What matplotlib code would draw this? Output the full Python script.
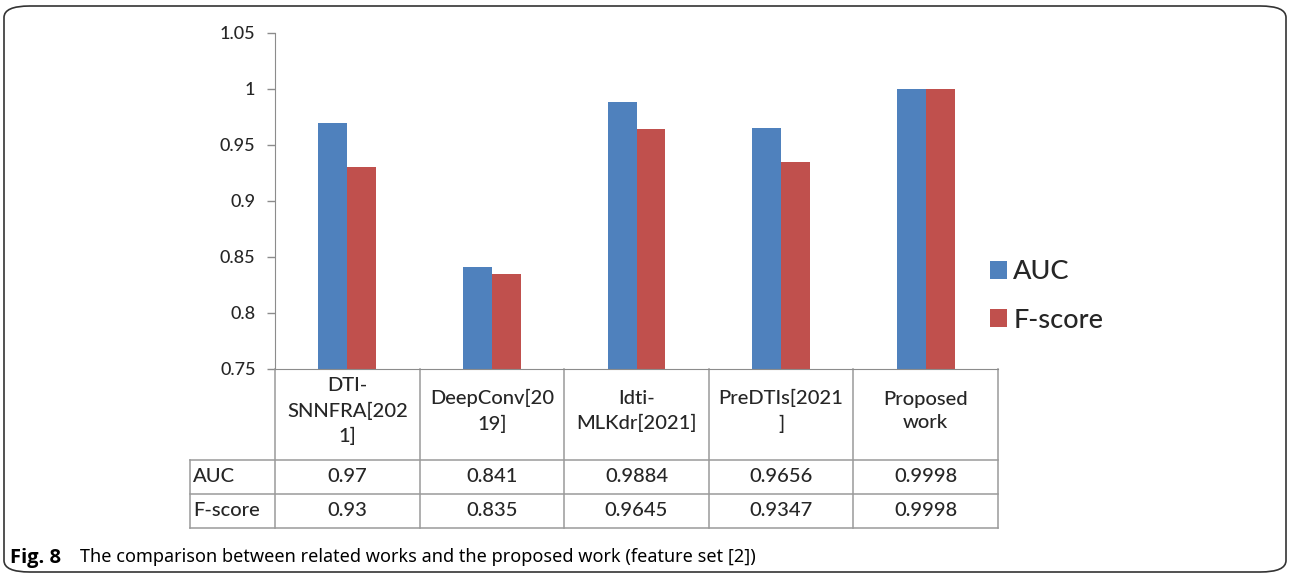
import matplotlib.pyplot as plt
import matplotlib.transforms as mtransforms
from matplotlib.patches import FancyBboxPatch
import numpy as np

# Data
methods = ['DTI-\nSNNFRA[202\n1]', 'DeepConv[20\n19]', 'Idti-\nMLKdr[2021]',
           'PreDTIs[2021\n]', 'Proposed\nwork']
auc = [0.97, 0.841, 0.9884, 0.9656, 0.9998]
fscore = [0.93, 0.835, 0.9645, 0.9347, 0.9998]
auc_labels = ['0.97', '0.841', '0.9884', '0.9656', '0.9998']
fscore_labels = ['0.93', '0.835', '0.9645', '0.9347', '0.9998']

blue = '#4F81BD'
red = '#C0504D'
grid_col = '#8C8C8C'
txt_col = '#262626'
font = 'Lato'

W, H = 1290, 574
fig = plt.figure(figsize=(W / 100, H / 100), dpi=100)

def fx(px):
    return px / W

def fy(py):
    return 1 - py / H

ax_left, ax_right, ax_top, ax_bot = 275, 998, 33, 369
ax = fig.add_axes([fx(ax_left), fy(ax_bot), fx(ax_right - ax_left), (ax_bot - ax_top) / H])

x = np.arange(len(methods))
bw = 0.2
ax.bar(x - bw / 2, auc, bw, color=blue, label='AUC')
ax.bar(x + bw / 2, fscore, bw, color=red, label='F-score')

ax.set_xlim(-0.5, len(methods) - 0.5)
ax.set_ylim(0.75, 1.05)
ax.set_yticks(np.arange(0.75, 1.051, 0.05))
ax.set_yticklabels(['0.75', '0.8', '0.85', '0.9', '0.95', '1', '1.05'],
                   fontsize=13, color=txt_col, family=font, fontweight='medium')
ax.set_xticks([])
ax.tick_params(axis='y', length=6, width=1, color=grid_col, pad=8)
for s in ['top', 'right']:
    ax.spines[s].set_visible(False)
ax.spines['left'].set_color(grid_col)
ax.spines['bottom'].set_color(grid_col)

# Data table under the axis: x in data units, y in figure fraction
trans = mtransforms.blended_transform_factory(ax.transData, fig.transFigure)
unit_px = (ax_right - ax_left) / len(methods)
head_left = -0.5 - (ax_left - 190) / unit_px
row_lines = [460, 494, 528]
line_kw = dict(color='#9A9A9A', lw=1.1, transform=trans, clip_on=False)

for b in np.arange(-0.5, len(methods), 1.0):
    ax.plot([b, b], [fy(ax_bot), fy(row_lines[-1])], **line_kw)
ax.plot([head_left, head_left], [fy(row_lines[0]), fy(row_lines[-1])], **line_kw)
for r in row_lines:
    ax.plot([head_left, len(methods) - 0.5], [fy(r), fy(r)], **line_kw)

cell_kw = dict(transform=trans, fontsize=14.5, color=txt_col,
               family=font, fontweight='medium', va='center')
for i, name in enumerate(methods):
    ax.text(i, fy(411), name, ha='center', linespacing=1.5, **cell_kw)
    ax.text(i, fy(477), auc_labels[i], ha='center', **cell_kw)
    ax.text(i, fy(510), fscore_labels[i], ha='center', **cell_kw)

ax.text(head_left + 0.02, fy(477), 'AUC', ha='left', **cell_kw)
ax.text(head_left + 0.02, fy(510), 'F-score', ha='left', **cell_kw)

# Legend
leg = fig.legend(loc='center left', bbox_to_anchor=(fx(966), fy(296)), frameon=False,
                 prop={'family': font, 'size': 19.5, 'weight': 'medium'},
                 handlelength=0.6, handleheight=0.6, handletextpad=0.25, labelspacing=0.85)
for t in leg.get_texts():
    t.set_color(txt_col)

# Caption and frame
fig.text(fx(10), fy(558), 'Fig. 8', fontsize=14.5, fontweight='bold',
         family='Open Sans', va='center', ha='left')
fig.text(fx(80), fy(557),
         'The comparison between related works and the proposed work (feature set [2])',
         fontsize=13, family='Noto Sans', va='center', ha='left')

frame = FancyBboxPatch((fx(4), fy(572)), fx(1282), (572 - 6) / H,
                       boxstyle='round,pad=0,rounding_size=0.02',
                       transform=fig.transFigure, fill=False, edgecolor='#333333', lw=1.2)
fig.patches.append(frame)

fig.savefig('out.png', dpi=100)
